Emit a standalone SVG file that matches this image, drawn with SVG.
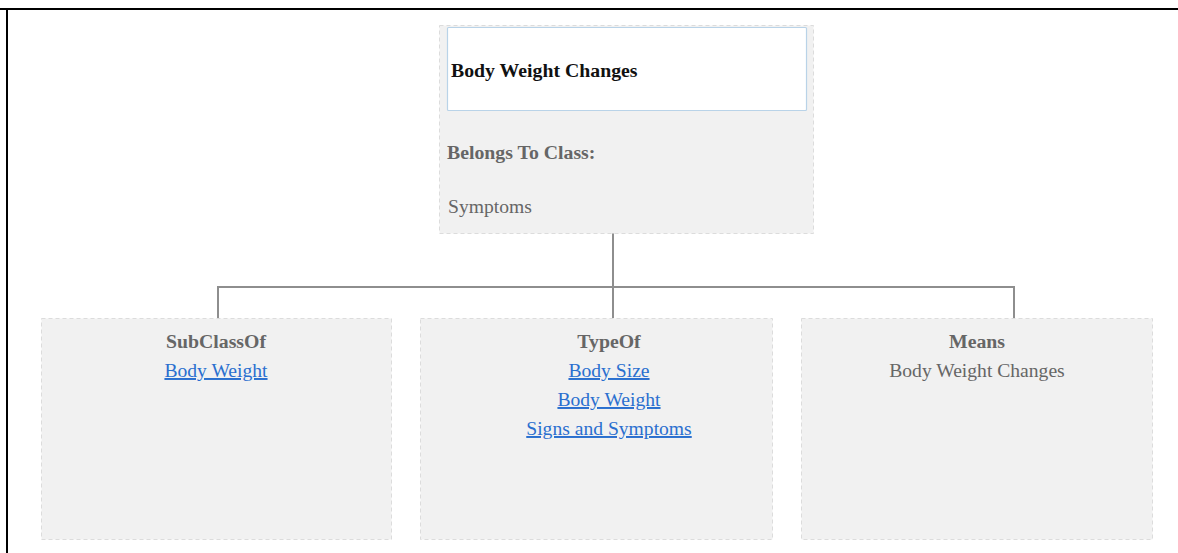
<svg xmlns="http://www.w3.org/2000/svg" width="1178" height="553" viewBox="0 0 1178 553">
  <style>
    .panel { fill: #f1f1f1; stroke: #dcdcdc; stroke-width: 1; stroke-dasharray: 4 3; }
    .title { font-family: "Liberation Serif", "Times New Roman", serif; font-size: 19.8px; font-weight: bold; fill: #111; }
    .head { font-family: "Liberation Serif", "Times New Roman", serif; font-size: 19.8px; font-weight: bold; fill: #666; }
    .plain { font-family: "Liberation Serif", "Times New Roman", serif; font-size: 19.6px; fill: #666; }
    .link { font-family: "Liberation Serif", "Times New Roman", serif; font-size: 19.6px; fill: #2a6fcf; text-decoration: underline; }
    .wire { fill: none; stroke: #8e8e8e; stroke-width: 2; }
  </style>

  <!-- frame edges -->
  <line x1="0" y1="9" x2="1178" y2="9" stroke="#000" stroke-width="2"/>
  <line x1="7" y1="8" x2="7" y2="553" stroke="#000" stroke-width="2"/>

  <g id="connectors">
    <path class="wire" d="M613 233 V287"/>
    <path class="wire" d="M218 318 V287 H1014 V318"/>
    <path class="wire" d="M613 287 V318"/>
  </g>

  <g id="node-root">
    <rect class="panel" x="439.5" y="25.5" width="374" height="208"/>
    <rect x="447.5" y="27.5" width="359" height="83" fill="#fff" stroke="#b9d3e8" stroke-width="1.2" rx="1"/>
    <text class="title" x="451" y="77">Body Weight Changes</text>
    <text class="head" x="447" y="159">Belongs To Class:</text>
    <text class="plain" x="448" y="213">Symptoms</text>
  </g>

  <g id="node-subclassof">
    <rect class="panel" x="41.5" y="318.5" width="350" height="221"/>
    <text class="head" x="216" y="348" text-anchor="middle">SubClassOf</text>
    <text class="link" x="216" y="377" text-anchor="middle">Body Weight</text>
  </g>

  <g id="node-typeof">
    <rect class="panel" x="420.5" y="318.5" width="352" height="221"/>
    <text class="head" x="609" y="348" text-anchor="middle">TypeOf</text>
    <text class="link" x="609" y="377" text-anchor="middle">Body Size</text>
    <text class="link" x="609" y="406" text-anchor="middle">Body Weight</text>
    <text class="link" x="609" y="435" text-anchor="middle">Signs and Symptoms</text>
  </g>

  <g id="node-means">
    <rect class="panel" x="801.5" y="318.5" width="351" height="221"/>
    <text class="head" x="977" y="348" text-anchor="middle">Means</text>
    <text class="plain" x="977" y="377" text-anchor="middle">Body Weight Changes</text>
  </g>
</svg>
